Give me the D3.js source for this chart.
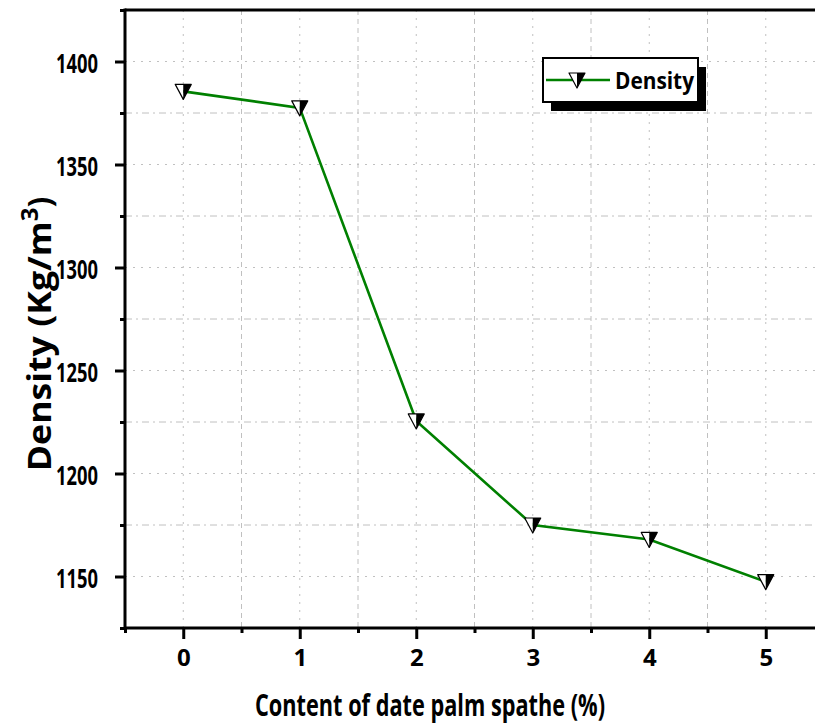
<!DOCTYPE html>
<html>
<head>
<meta charset="utf-8">
<script src="https://cdn.jsdelivr.net/npm/d3@7/dist/d3.min.js"></script>
<style>
  body { margin: 0; background: #fff; }
  svg { display: block; font-family: "Open Sans", sans-serif; font-weight: bold; }
</style>
</head>
<body>
<svg id="chart" width="815" height="725"></svg>
<script>
// data
const contents = [0, 1, 2, 3, 4, 5];
const density = [1385.5, 1377.5, 1225.5, 1175, 1168, 1147.5];
const xTicks = [0, 1, 2, 3, 4, 5];
const yTicks = [1150, 1200, 1250, 1300, 1350, 1400];
const seriesName = "Density";

const margin = { top: 10, left: 125, bottom: 628, right: 824 };

const svg = d3.select("#chart");

const x = d3.scaleLinear().domain([-0.5, 5.5]).range([margin.left, margin.right]);
const y = d3.scaleLinear().domain([1125, 1425]).range([margin.bottom, margin.top]);

const xMinor = d3.range(-0.5, 5.6, 1);
const yMinor = d3.range(1125, 1426, 50);

// grid
const grid = svg.append("g").attr("stroke", "#c0c0c0").attr("stroke-width", 1);
grid.selectAll(".vmaj").data(xTicks).join("line")
  .attr("x1", d => x(d)).attr("x2", d => x(d))
  .attr("y1", margin.top).attr("y2", margin.bottom)
  .attr("stroke-dasharray", "2,6");
grid.selectAll(".vmin").data(xMinor.slice(1)).join("line")
  .attr("x1", d => x(d)).attr("x2", d => x(d))
  .attr("y1", margin.top).attr("y2", margin.bottom)
  .attr("stroke-dasharray", "5,4");
grid.selectAll(".hmaj").data(yTicks).join("line")
  .attr("y1", d => y(d)).attr("y2", d => y(d))
  .attr("x1", margin.left).attr("x2", margin.right)
  .attr("stroke-dasharray", "2,6");
grid.selectAll(".hmin").data(yMinor.slice(1, -1)).join("line")
  .attr("y1", d => y(d)).attr("y2", d => y(d))
  .attr("x1", margin.left).attr("x2", margin.right)
  .attr("stroke-dasharray", "7,4,2,4");

// frame top
svg.append("line")
  .attr("x1", margin.left).attr("x2", margin.right)
  .attr("y1", margin.top).attr("y2", margin.top)
  .attr("stroke", "#000").attr("stroke-width", 3);

// axes
const xAxis = svg.append("g")
  .attr("transform", `translate(0,${margin.bottom})`)
  .call(d3.axisBottom(x).tickValues(xTicks).tickFormat(d3.format("d")).tickSize(11).tickPadding(10));
svg.append("g")
  .attr("transform", `translate(0,${margin.bottom})`)
  .call(d3.axisBottom(x).tickValues(xMinor).tickFormat("").tickSize(5))
  .call(g => g.select(".domain").remove());

const yAxis = svg.append("g")
  .attr("transform", `translate(${margin.left},0)`)
  .call(d3.axisLeft(y).tickValues(yTicks).tickFormat(d3.format("d")).tickSize(10).tickPadding(17));
svg.append("g")
  .attr("transform", `translate(${margin.left},0)`)
  .call(d3.axisLeft(y).tickValues(yMinor).tickFormat("").tickSize(5))
  .call(g => g.select(".domain").remove());

svg.selectAll(".tick line").attr("stroke-width", 3);
svg.selectAll(".tick text").attr("font-family", "Open Sans").attr("font-weight", "bold")
  .attr("fill", "#000");
xAxis.selectAll(".tick text").attr("font-size", 24);
yAxis.selectAll(".tick text").attr("font-size", 27).attr("dy", "0.42em")
  .attr("textLength", 42).attr("lengthAdjust", "spacingAndGlyphs");

// clean axis lines (no outer ticks)
xAxis.select(".domain").remove();
yAxis.select(".domain").remove();
svg.append("line").attr("x1", margin.left).attr("x2", margin.right)
  .attr("y1", margin.bottom).attr("y2", margin.bottom)
  .attr("stroke", "#000").attr("stroke-width", 3);
svg.append("line").attr("x1", margin.left).attr("x2", margin.left)
  .attr("y1", margin.top - 1.5).attr("y2", margin.bottom + 1.5)
  .attr("stroke", "#000").attr("stroke-width", 3);

// line
const pts = contents.map((c, i) => [c, density[i]]);
svg.append("path")
  .datum(pts)
  .attr("fill", "none")
  .attr("stroke", "#008000")
  .attr("stroke-width", 2.6)
  .attr("d", d3.line().x(d => x(d[0])).y(d => y(d[1])));

function marker(g) {
  g.append("path").attr("d", "M-8,-7L0,-7L0,8Z").attr("fill", "#fff");
  g.append("path").attr("d", "M0,-7L8,-7L0,8Z").attr("fill", "#000");
  g.append("path").attr("d", "M-8,-7L8,-7L0,8Z").attr("fill", "none")
    .attr("stroke", "#000").attr("stroke-width", 1.2).attr("stroke-linejoin", "round");
}

svg.append("g").selectAll("g").data(pts).join("g")
  .attr("transform", d => `translate(${x(d[0])},${y(d[1])})`)
  .each(function () { marker(d3.select(this)); });

// legend
const leg = svg.append("g").attr("transform", "translate(543,58)");
leg.append("rect").attr("x", 8).attr("y", 9).attr("width", 155).attr("height", 44).attr("fill", "#000");
leg.append("rect").attr("x", 0).attr("y", 0).attr("width", 155).attr("height", 44)
  .attr("fill", "#fff").attr("stroke", "#000").attr("stroke-width", 2);
leg.append("line").attr("x1", 3).attr("x2", 67).attr("y1", 22).attr("y2", 22)
  .attr("stroke", "#008000").attr("stroke-width", 2.6);
marker(leg.append("g").attr("transform", "translate(34,22)"));
leg.append("text").attr("x", 72).attr("y", 31).attr("font-size", 24)
  .attr("textLength", 79).attr("lengthAdjust", "spacingAndGlyphs").text(seriesName);

// axis titles
svg.append("text")
  .attr("x", 430).attr("y", 716)
  .attr("text-anchor", "middle")
  .attr("font-size", 31)
  .attr("textLength", 350).attr("lengthAdjust", "spacingAndGlyphs")
  .text("Content of date palm spathe (%)");

const yt = svg.append("text")
  .attr("transform", "translate(51,334) rotate(-90)")
  .attr("text-anchor", "middle")
  .attr("font-size", 32);
yt.append("tspan").attr("textLength", 250).attr("lengthAdjust", "spacingAndGlyphs").text("Density (Kg/m");
yt.append("tspan").attr("dy", -13).attr("font-size", 24).text("3");
yt.append("tspan").attr("dy", 13).text(")");
</script>
</body>
</html>
